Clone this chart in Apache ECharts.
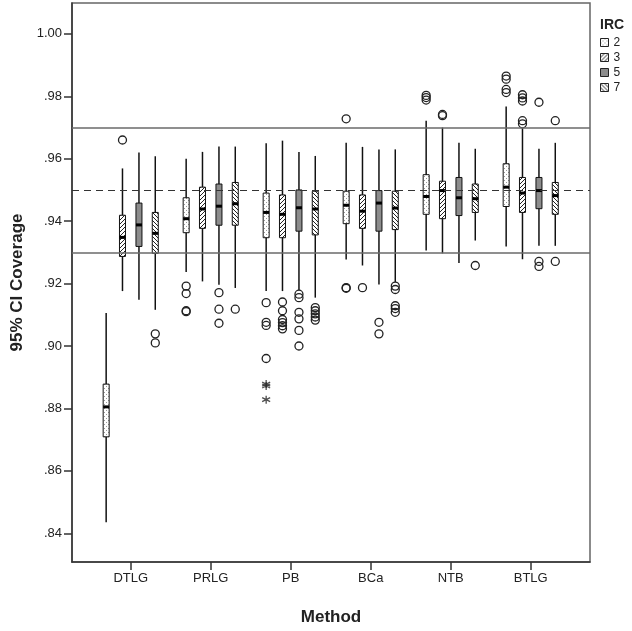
<!DOCTYPE html>
<html>
<head>
<meta charset="utf-8">
<script src="https://cdn.jsdelivr.net/npm/echarts@6/dist/echarts.min.js"></script>
<style>html,body{margin:0;padding:0;background:#fff}#chart{width:632px;height:631px}</style>
</head>
<body>
<div id="chart"></div>
<script>
// ---- Data ----
const methods = ['DTLG', 'PRLG', 'PB', 'BCa', 'NTB', 'BTLG'];
const ircLevels = ['2', '3', '5', '7'];
const yTicks = [0.84, 0.86, 0.88, 0.90, 0.92, 0.94, 0.96, 0.98, 1.00];
const refLines = [0.975, 0.95, 0.925];

// [lower whisker, Q1, median, Q3, upper whisker] per method
const irc2Stats = [
  [0.8435, 0.8709, 0.8805, 0.8878, 0.9106],
  [0.9237, 0.9363, 0.9408, 0.9475, 0.9600],
  [0.9176, 0.9347, 0.9428, 0.9490, 0.9650],
  [0.9277, 0.9392, 0.9451, 0.9496, 0.9651],
  [0.9306, 0.9422, 0.9479, 0.9549, 0.9722],
  [0.9319, 0.9447, 0.9509, 0.9584, 0.9767]
];
const irc3Stats = [
  [0.9176, 0.9287, 0.9348, 0.9419, 0.9569],
  [0.9207, 0.9377, 0.9439, 0.9509, 0.9622],
  [0.9176, 0.9347, 0.9422, 0.9484, 0.9658],
  [0.9258, 0.9377, 0.9432, 0.9484, 0.9638],
  [0.9297, 0.9408, 0.9498, 0.9528, 0.9700],
  [0.9278, 0.9428, 0.9490, 0.9540, 0.9698]
];
const irc5Stats = [
  [0.9148, 0.9319, 0.9388, 0.9458, 0.9620],
  [0.9196, 0.9387, 0.9448, 0.9519, 0.9639],
  [0.9179, 0.9368, 0.9443, 0.9500, 0.9622],
  [0.9197, 0.9368, 0.9458, 0.9498, 0.9630],
  [0.9266, 0.9418, 0.9475, 0.9540, 0.9651],
  [0.9321, 0.9440, 0.9498, 0.9540, 0.9632]
];
const irc7Stats = [
  [0.9116, 0.9297, 0.9361, 0.9428, 0.9608],
  [0.9186, 0.9387, 0.9456, 0.9524, 0.9639],
  [0.9155, 0.9356, 0.9439, 0.9496, 0.9609],
  [0.9205, 0.9373, 0.9442, 0.9496, 0.9630],
  [0.9338, 0.9428, 0.9472, 0.9519, 0.9632],
  [0.9321, 0.9422, 0.9482, 0.9524, 0.9651]
];

// outliers (circles) per method
const irc2Outliers = [[], [0.9192, 0.9168, 0.9113, 0.9110], [0.9139, 0.9076, 0.9066, 0.8960], [0.9728, 0.9187, 0.9185], [0.9803, 0.9796, 0.9788], [0.9865, 0.9855, 0.9822, 0.9812]];
const irc3Outliers = [[0.9660], [], [0.9141, 0.9113, 0.9085, 0.9075, 0.9065, 0.9055], [0.9187], [0.9742, 0.9738], [0.9805, 0.9795, 0.9785, 0.9722, 0.9712]];
const irc5Outliers = [[], [0.9171, 0.9118, 0.9073], [0.9166, 0.9155, 0.9108, 0.9087, 0.9050, 0.9000], [0.9076, 0.9039], [], [0.9781, 0.9271, 0.9255]];
const irc7Outliers = [[0.9039, 0.9010], [0.9118], [0.9123, 0.9113, 0.9103, 0.9093, 0.9083], [0.9192, 0.9181, 0.9129, 0.9120, 0.9108], [0.9258], [0.9722, 0.9271]];
// extreme values (asterisks) per method
const irc2Extremes = [[], [], [0.8878, 0.8872, 0.8828], [], [], []];

// ---- Styling helpers ----
const groupOffsets = [-0.307, -0.103, 0.103, 0.307];
function makePattern(kind) {
  const c = document.createElement('canvas');
  c.width = 4; c.height = 4;
  const g = c.getContext('2d');
  g.fillStyle = '#ffffff'; g.fillRect(0, 0, 4, 4);
  if (kind === 'dots') {
    g.fillStyle = '#9a9a9a';
    g.fillRect(0, 0, 1, 1); g.fillRect(2, 2, 1, 1);
  } else if (kind === 'slash' || kind === 'back') {
    g.strokeStyle = '#222'; g.lineWidth = 1;
    g.beginPath();
    if (kind === 'slash') {
      g.moveTo(0, 4); g.lineTo(4, 0); g.moveTo(-1, 1); g.lineTo(1, -1); g.moveTo(3, 5); g.lineTo(5, 3);
    } else {
      g.moveTo(0, 0); g.lineTo(4, 4); g.moveTo(-1, 3); g.lineTo(1, 5); g.moveTo(3, -1); g.lineTo(5, 1);
    }
    g.stroke();
  }
  return { image: c, repeat: 'repeat' };
}
const fills = [makePattern('dots'), makePattern('slash'), '#8c8c8c', makePattern('back')];
const allStats = [irc2Stats, irc3Stats, irc5Stats, irc7Stats];
const allOutliers = [irc2Outliers, irc3Outliers, irc5Outliers, irc7Outliers];

function boxRenderer(fill) {
  return function (params, api) {
    const x = api.value(0);
    const lo = api.coord([x, api.value(1)]);
    const q1 = api.coord([x, api.value(2)]);
    const md = api.coord([x, api.value(3)]);
    const q3 = api.coord([x, api.value(4)]);
    const hi = api.coord([x, api.value(5)]);
    const w = 6;
    return {
      type: 'group',
      children: [
        { type: 'line', shape: { x1: lo[0], y1: lo[1], x2: hi[0], y2: hi[1] }, style: { stroke: '#111', lineWidth: 1.5 } },
        { type: 'rect', shape: { x: q3[0] - w / 2, y: q3[1], width: w, height: q1[1] - q3[1] }, style: { fill: fill, stroke: '#111', lineWidth: 1 } },
        { type: 'rect', shape: { x: md[0] - w / 2, y: md[1] - 1.5, width: w, height: 3 }, style: { fill: '#000' } }
      ]
    };
  };
}

const series = [];
// reference lines
series.push({
  type: 'scatter', name: 'ref', data: [], z: 1, silent: true,
  markLine: {
    silent: true, symbol: 'none', label: { show: false },
    data: [
      { yAxis: refLines[0], lineStyle: { color: '#6a6a6a', width: 1.6, type: 'solid' } },
      { yAxis: refLines[1], lineStyle: { color: '#333', width: 1.2, type: [7, 5] } },
      { yAxis: refLines[2], lineStyle: { color: '#6a6a6a', width: 1.6, type: 'solid' } }
    ]
  }
});
ircLevels.forEach(function (lvl, k) {
  series.push({
    type: 'custom', name: lvl, z: 3,
    renderItem: boxRenderer(fills[k]),
    encode: { x: 0, y: [1, 2, 3, 4, 5] },
    itemStyle: { color: typeof fills[k] === 'string' ? fills[k] : '#fff' },
    data: allStats[k].map(function (s, i) { return [i + groupOffsets[k]].concat(s); })
  });
  const pts = [];
  allOutliers[k].forEach(function (arr, i) { arr.forEach(function (v) { pts.push([i + groupOffsets[k], v]); }); });
  series.push({
    type: 'scatter', name: 'out' + lvl, z: 4, silent: true,
    symbol: 'circle', symbolSize: 8,
    itemStyle: { color: 'rgba(0,0,0,0)', borderColor: '#222', borderWidth: 1.3, opacity: 1 },
    data: pts
  });
});
const starPts = [];
irc2Extremes.forEach(function (arr, i) { arr.forEach(function (v) { starPts.push([i + groupOffsets[0], v]); }); });
series.push({
  type: 'scatter', name: 'ext2', z: 4, silent: true,
  symbol: 'path://M0,-5 L0,5 M-4.33,-2.5 L4.33,2.5 M-4.33,2.5 L4.33,-2.5',
  symbolSize: 8,
  itemStyle: { color: 'rgba(0,0,0,0)', borderColor: '#222', borderWidth: 1.3 },
  data: starPts
});

const chart = echarts.init(document.getElementById('chart'), null, { renderer: 'canvas' });
chart.setOption({
  animation: false,
  backgroundColor: '#fff',
  textStyle: { fontFamily: 'Liberation Sans, Arial, sans-serif' },
  title: {
    text: 'IRC', left: 600, top: 18, padding: 0,
    textStyle: { fontFamily: 'Liberation Sans, Arial, sans-serif', fontSize: 14, fontWeight: 'bold', color: '#222' }
  },
  legend: {
    orient: 'vertical', left: 600, top: 36, padding: 0, itemWidth: 8, itemHeight: 8, itemGap: 2,
    icon: 'rect', selectedMode: false,
    textStyle: { fontSize: 12, color: '#222', lineHeight: 13 },
    data: ircLevels.map(function (lvl, k) {
      return { name: lvl, itemStyle: { color: fills[k], borderColor: '#222', borderWidth: 1 } };
    })
  },
  grid: { left: 72, top: 3, width: 518, height: 567.7, show: true, borderColor: '#666', borderWidth: 1.5, containLabel: false },
  xAxis: {
    type: 'value', min: -0.734, max: 5.741,
    name: 'Method', nameLocation: 'middle', nameGap: 47,
    nameTextStyle: { fontSize: 17, fontWeight: 'bold', color: '#222' },
    axisLine: { show: true, onZero: false, lineStyle: { color: '#333', width: 1.5 } },
    axisTick: { show: true, length: 8, customValues: [0, 1, 2, 3, 4, 5], lineStyle: { color: '#333', width: 1.5 } },
    axisLabel: { customValues: [0, 1, 2, 3, 4, 5], margin: 10, fontSize: 13, color: '#222', formatter: function (v) { return methods[Math.round(v)]; } },
    splitLine: { show: false }
  },
  yAxis: {
    type: 'value', min: 0.8308, max: 1.0099,
    name: '95% CI Coverage', nameLocation: 'middle', nameGap: 46,
    nameTextStyle: { fontSize: 17, fontWeight: 'bold', color: '#222' },
    axisLine: { show: true, onZero: false, lineStyle: { color: '#333', width: 1.5 } },
    axisTick: { show: true, length: 8, customValues: yTicks, lineStyle: { color: '#333', width: 1.5 } },
    axisLabel: {
      customValues: yTicks, margin: 10, fontSize: 13, color: '#222',
      formatter: function (v) { const s = v.toFixed(2); return v >= 1 ? s : s.slice(1); }
    },
    splitLine: { show: false }
  },
  series: series
});
</script>
</body>
</html>
